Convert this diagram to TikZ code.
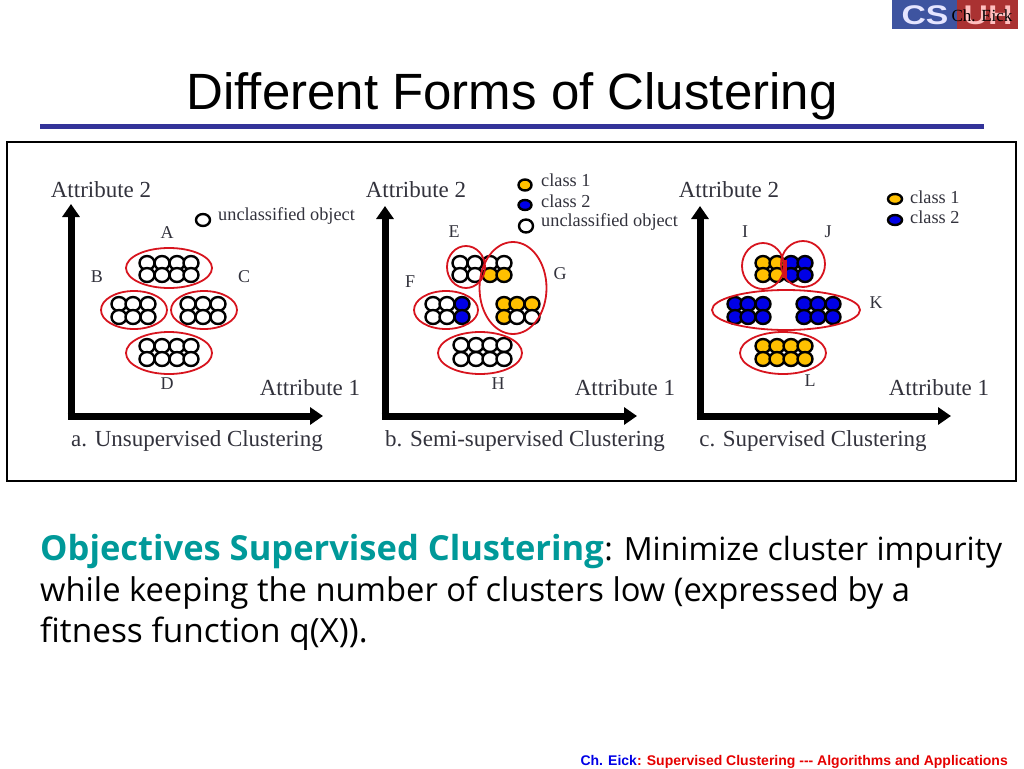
\documentclass[tikz,border=0pt]{standalone}
\usepackage{fontspec}
\setmainfont{Liberation Sans}
\newfontfamily\serifx{Liberation Serif}
\newfontfamily\bodyf{Open Sans}
\usetikzlibrary{shapes.geometric,arrows.meta}
\definecolor{rulec}{RGB}{51,51,153}
\definecolor{teal1}{RGB}{0,153,153}
\definecolor{gold1}{RGB}{255,192,0}
\definecolor{blue1}{RGB}{0,0,230}
\definecolor{red1}{RGB}{215,20,30}
\definecolor{lab}{RGB}{50,50,60}
\definecolor{logob}{RGB}{62,84,160}
\definecolor{logor}{RGB}{170,50,50}
\tikzset{
  clus/.style={draw=red1,line width=1.8pt,ellipse,inner sep=0pt,fill=none},
  obj/.style={draw=black,line width=2.4pt},
  axisline/.style={line width=7pt,-{Triangle[length=13pt,width=17pt]}},
  lbl/.style={font=\serifx\fontsize{23}{23}\selectfont,text=lab,inner sep=0pt},
  leg/.style={font=\serifx\fontsize{18.3}{18.3}\selectfont,text=lab,inner sep=0pt,anchor=west},
  letter/.style={font=\serifx\fontsize{18}{18}\selectfont,text=lab,inner sep=0pt},
  logot/.style={inner sep=0pt,font=\bfseries\fontsize{27}{27}\selectfont,xscale=1.25},
}
\newcommand{\objs}[3]{\foreach \px in {#1} \foreach \py in {#2} \filldraw[obj,fill=#3] (\px,\py) circle[x radius=7.5pt,y radius=7pt];}
\begin{document}
\begin{tikzpicture}[x=1pt,y=-1pt]
\useasboundingbox (0,0) rectangle (1024,768);
% logo
\fill[logob] (892,0) rectangle (957,29);
\fill[logor] (957,0) rectangle (1018,29);
\node[logot,text=white!90!blue] (logocs) at (925,15) {CS};
\node[logot,text=white!75!red] (logouh) at (988,15) {UH};
\node[inner sep=0pt,font=\serifx\fontsize{17}{17}\selectfont] (credit) at (982,16) {Ch. Eick};
% title
\node[inner sep=0pt,anchor=base,font=\fontsize{51}{51}\selectfont] (title) at (512,109) {Dif{}ferent Forms of Clustering};
\fill[rulec] (40,124) rectangle (984,129);
\draw[line width=2pt] (7,142) rectangle (1016,481);
% panel a
\draw[axisline] (71,417) -- (71,204);
\draw[axisline] (67.5,416) -- (323,416);
\node[lbl] (a2) at (101,190) {Attribute 2};
\node[lbl] (a1) at (310,388) {Attribute 1};
\node[lbl] (acap) at (197,441) {a. Unsupervised Clustering};
\objs{147,162,177,191}{263,275}{white}
\objs{119,133,148}{304,317}{white}
\objs{188,203,218}{304,317}{white}
\objs{147,162,177,191}{346,359}{white}
\node[clus,minimum width=86pt,minimum height=40pt] (A) at (169,268) {};
\node[clus,minimum width=66pt,minimum height=38pt] (B) at (134,310) {};
\node[clus,minimum width=66pt,minimum height=38pt] (C) at (204,310) {};
\node[clus,minimum width=86pt,minimum height=42pt] (D) at (169,353) {};
\node[letter] (la) at (167,233) {A};
\node[letter] (lb) at (97,277) {B};
\node[letter] (lc) at (244,277) {C};
\node[letter] (ld) at (167,384) {D};
\filldraw[obj,fill=white] (203,220) circle[x radius=7pt,y radius=6pt];
\node[leg] (au) at (218,216) {unclassified object};
% panel b
\draw[axisline] (385,417) -- (385,206);
\draw[axisline] (381.5,416) -- (637,416);
\node[lbl] (b2) at (416,190) {Attribute 2};
\node[lbl] (b1) at (625,388) {Attribute 1};
\node[lbl] (bcap) at (525,441) {b. Semi-supervised Clustering};
\objs{460,475,490,504}{263}{white}
\objs{460,475}{275}{white}
\objs{490,504}{275}{gold1}
\objs{433,447}{304,317}{white}
\objs{462}{304,317}{blue1}
\objs{504,517,532}{304}{gold1}
\objs{504}{317}{gold1}
\objs{517,532}{317}{white}
\objs{461,476,490,504}{345,359}{white}
\node[clus,minimum width=38pt,minimum height=42pt] (E) at (466,267) {};
\node[clus,minimum width=64pt,minimum height=38pt] (F) at (446,310) {};
\node[clus,minimum width=67pt,minimum height=92pt] (G) at (513,288) {};
\node[clus,minimum width=84pt,minimum height=42pt] (H) at (480,353) {};
\node[letter] (le) at (454,232) {E};
\node[letter] (lf) at (410,282) {F};
\node[letter] (lg) at (560,274) {G};
\node[letter] (lh) at (498,384) {H};
\filldraw[obj,fill=gold1] (525,185) circle[x radius=6.5pt,y radius=5.5pt];
\filldraw[obj,fill=blue1] (525,205) circle[x radius=6.5pt,y radius=5pt];
\filldraw[obj,fill=white] (526,226) circle[x radius=7pt,y radius=6.5pt];
\node[leg] (bc1) at (541,180) {class 1};
\node[leg] (bc2) at (541,201) {class 2};
\node[leg] (bu) at (541,222) {unclassified object};
% panel c
\draw[axisline] (700,417) -- (700,206);
\draw[axisline] (696.5,416) -- (951,416);
\node[lbl] (c2) at (729,190) {Attribute 2};
\node[lbl] (c1) at (939,388) {Attribute 1};
\node[lbl] (ccap) at (813,441) {c. Supervised Clustering};
\objs{763,777}{263,275}{gold1}
\objs{791,805}{263,275}{blue1}
\objs{735,748,763}{304,317}{blue1}
\objs{804,818,833}{304,317}{blue1}
\objs{763,777,791,805}{346,359}{gold1}
\node[clus,minimum width=42pt,minimum height=46pt] (I) at (763,266) {};
\node[clus,minimum width=44pt,minimum height=46pt] (J) at (803,264) {};
\node[clus,minimum width=148pt,minimum height=40pt] (K) at (786,310) {};
\node[clus,minimum width=86pt,minimum height=42pt] (L) at (783,353) {};
\draw[red1,line width=3.5pt] (I.east |- 0,260) -- (I.east |- 0,278);
\node[letter] (li) at (745,232) {I};
\node[letter] (lj) at (828,232) {J};
\node[letter] (lk) at (876,303) {K};
\node[letter] (ll) at (810,381) {L};
\filldraw[obj,fill=gold1] (895,199) circle[x radius=7pt,y radius=5pt];
\filldraw[obj,fill=blue1] (895,220) circle[x radius=7pt,y radius=5pt];
\node[leg] (cc1) at (910,197) {class 1};
\node[leg] (cc2) at (910,217) {class 2};
% body
\node[inner sep=0pt,anchor=base west,font=\bodyf\fontsize{34.5}{34.5}\selectfont\bfseries,text=teal1] (t1a) at (40,560) {Objectives Supervised Clustering};
\node[inner sep=0pt,anchor=base west,font=\bodyf\fontsize{32}{32}\selectfont] (t1b) at (t1a.base east) {: Minimize cluster impurity};
\node[inner sep=0pt,anchor=base west,font=\bodyf\fontsize{32.7}{32.7}\selectfont] (t2) at (40,601) {while keeping the number of clusters low (expressed by a};
\node[inner sep=0pt,anchor=base west,font=\bodyf\fontsize{33.4}{33.4}\selectfont] (t3) at (40,642) {fitness function q(X)).};
% footer
\node[inner sep=0pt,anchor=base east,font=\bfseries\fontsize{14}{14}\selectfont] (foot) at (1008,765) {\textcolor{blue1}{Ch. Eick}\textcolor{red!90!black}{: Supervised Clustering -{}-{}- Algorithms and Applications}};
\end{tikzpicture}
\end{document}
